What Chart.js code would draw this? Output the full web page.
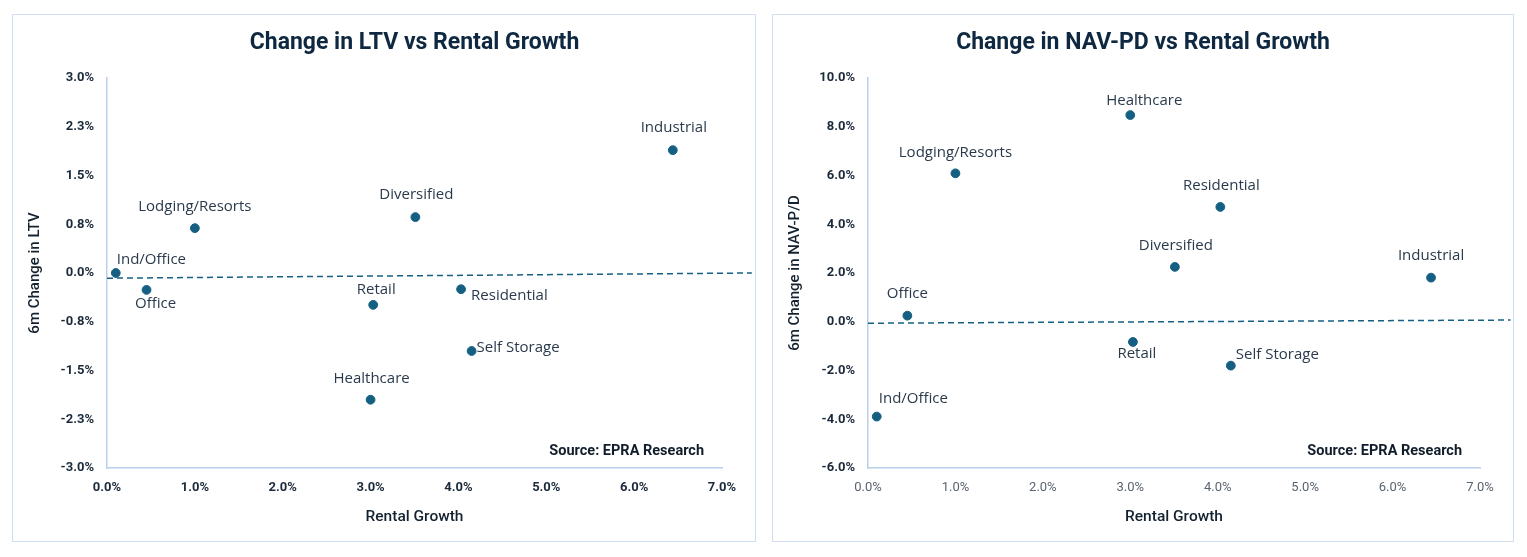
<!DOCTYPE html>
<html>
<head>
<meta charset="utf-8">
<script src="https://cdn.jsdelivr.net/npm/chart.js@4.4.1/dist/chart.umd.min.js"></script>
<style>
  body { margin: 0; background: #fff; width: 1527px; height: 557px; overflow: hidden; position: relative; }
  .box { position: absolute; top: 14px; border: 1px solid #cfdff2; background: #fff; }
  #b1 { left: 12px; width: 742px; height: 526px; }
  #b2 { left: 772px; width: 740px; height: 526px; }
  canvas { display: block; }
</style>
</head>
<body>
<div class="box" id="b1"><canvas id="c1" width="742" height="526"></canvas></div>
<div class="box" id="b2"><canvas id="c2" width="740" height="526"></canvas></div>
<script>
// data (all values in %)
const sectors = ['Industrial', 'Diversified', 'Lodging/Resorts', 'Ind/Office', 'Office', 'Retail', 'Residential', 'Self Storage', 'Healthcare'];
const rentalGrowth = [6.44, 3.51, 1.00, 0.10, 0.45, 3.03, 4.03, 4.15, 3.00];
const ltvChange = [1.89, 0.86, 0.69, 0.00, -0.26, -0.49, -0.25, -1.20, -1.95];
const navChange = [1.81, 2.25, 6.09, -3.89, 0.25, -0.83, 4.71, -1.80, 8.48];

// dashed trend lines (end points)
const ltvTrendX = [0, 7.34];
const ltvTrendY = [-0.08, 0.00];
const navTrendX = [0, 7.35];
const navTrendY = [-0.06, 0.07];

const xTicks = [0, 7, 1];          // min, max, step
const ltvTicks = [-3, 3, 0.75];
const navTicks = [-6, 10, 2];

// label placement per point: dx, dy, align
const ltvLabelPos = [[1, -22, 'center'], [1, -22, 'center'], [0, -21, 'center'], [1, -13, 'left'], [9, 14, 'center'],
  [3, -15, 'center'], [10, 6, 'left'], [5, -3, 'left'], [1, -21, 'center']];
const navLabelPos = [[0, -22, 'center'], [1, -21, 'center'], [0, -21, 'center'], [2, -18, 'left'], [0, -22, 'center'],
  [4, 12, 'center'], [1, -21, 'center'], [5, -11, 'left'], [14, -14, 'center']];

const BLUE = '#156082';
const NAVY = '#0e2841';
const AXIS = '#b9d0ea';

const deco = {
  id: 'deco',
  afterDatasetsDraw(chart, args, opts) {
    const ctx = chart.ctx;
    const area = chart.chartArea;
    ctx.save();
    // point labels
    const meta = chart.getDatasetMeta(0);
    ctx.font = '15px "Open Sans"';
    ctx.fillStyle = '#2a3a4c';
    ctx.textBaseline = 'middle';
    meta.data.forEach((pt, i) => {
      const p = opts.placement[i];
      ctx.textAlign = p[2];
      ctx.fillText(sectors[i], pt.x + p[0], pt.y + p[1]);
    });
    // title
    ctx.font = 'bold 23px Roboto';
    ctx.fillStyle = NAVY;
    ctx.textAlign = 'center';
    const cx = opts.titleOnArea ? (area.left + area.right) / 2 : chart.width / 2;
    ctx.fillText(opts.title, cx, 28);
    // source note
    ctx.font = 'bold 14.5px Roboto';
    ctx.fillStyle = '#111d2b';
    ctx.textAlign = 'right';
    ctx.fillText('Source: EPRA Research', area.right - 18, area.bottom - 17);
    ctx.restore();
  }
};

function makeChart(id, yValues, trendX, trendY, yTicks, yTitle, labelPos, title, titleOnArea, yWidth, xTickStyle) {
  const points = rentalGrowth.map((x, i) => ({ x: x, y: yValues[i] }));
  const trend = trendX.map((x, i) => ({ x: x, y: trendY[i] }));
  return new Chart(document.getElementById(id), {
    type: 'scatter',
    data: {
      datasets: [
        {
          data: points,
          backgroundColor: BLUE,
          borderColor: BLUE,
          pointRadius: 4.4,
          pointHoverRadius: 4.4,
        },
        {
          type: 'line',
          data: trend,
          borderColor: BLUE,
          borderWidth: 1.5,
          borderDash: [6, 4],
          pointRadius: 0,
          fill: false,
          clip: false,
        },
      ],
    },
    options: {
      responsive: false,
      animation: false,
      devicePixelRatio: 1,
      layout: { padding: { top: 63, right: 33, left: 0, bottom: 0 } },
      plugins: {
        legend: { display: false },
        tooltip: { enabled: false },
        deco: { title: title, titleOnArea: titleOnArea, placement: labelPos },
      },
      scales: {
        x: {
          type: 'linear',
          min: xTicks[0], max: xTicks[1],
          afterFit: s => { s.height = 73; },
          grid: { display: false, drawTicks: false },
          border: { display: true, color: AXIS, width: 1.5 },
          ticks: {
            stepSize: xTicks[2],
            padding: 12,
            color: xTickStyle.color,
            font: { family: 'Roboto', size: 13, weight: xTickStyle.weight },
            callback: v => v.toFixed(1) + '%',
          },
          title: {
            display: true,
            text: 'Rental Growth',
            color: '#14222f',
            font: { family: 'Roboto', size: 15.5, weight: '500' },
            padding: { top: 0, bottom: 15 },
          },
        },
        y: {
          type: 'linear',
          min: yTicks[0], max: yTicks[1],
          afterFit: s => { s.width = yWidth; },
          grid: { display: false, drawTicks: false },
          border: { display: true, color: AXIS, width: 1.5 },
          ticks: {
            stepSize: yTicks[2],
            padding: 13,
            color: '#1b2a3a',
            font: { family: 'Roboto', size: 13, weight: 'bold' },
            callback: v => v.toFixed(1) + '%',
          },
          title: {
            display: true,
            text: yTitle,
            color: '#14222f',
            font: { family: 'Roboto', size: 15, weight: '500' },
            padding: { top: 13, bottom: 0 },
          },
        },
      },
    },
    plugins: [deco],
  });
}

makeChart('c1', ltvChange, ltvTrendX, ltvTrendY, ltvTicks, '6m Change in LTV', ltvLabelPos,
  'Change in LTV vs Rental Growth', true, 94, { color: '#1b2a3a', weight: 'bold' });
makeChart('c2', navChange, navTrendX, navTrendY, navTicks, '6m Change in NAV-P/D', navLabelPos,
  'Change in NAV-PD vs Rental Growth', false, 95, { color: '#5a6470', weight: 'normal' });
</script>
</body>
</html>
